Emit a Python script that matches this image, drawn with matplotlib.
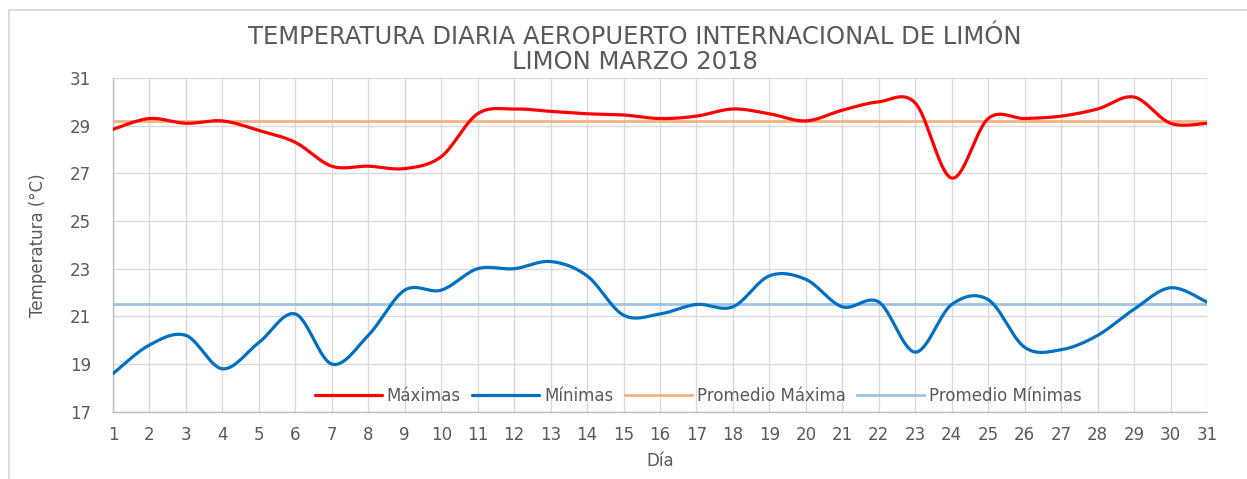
import numpy as np
import matplotlib
matplotlib.use("Agg")
import matplotlib.pyplot as plt
from matplotlib.patches import Rectangle

# ---- data ----
days = list(range(1, 32))
maximas = [28.85, 29.3, 29.1, 29.2, 28.8, 28.3, 27.3, 27.3, 27.2, 27.7,
           29.5, 29.7, 29.6, 29.5, 29.45, 29.3, 29.4, 29.7, 29.5, 29.2,
           29.65, 30.0, 29.95, 26.8, 29.3, 29.3, 29.4, 29.7, 30.2, 29.1, 29.1]
minimas = [18.6, 19.8, 20.2, 18.8, 19.9, 21.1, 19.0, 20.2, 22.1, 22.1,
           23.0, 23.0, 23.3, 22.7, 21.05, 21.1, 21.5, 21.4, 22.7, 22.55,
           21.4, 21.6, 19.5, 21.5, 21.7, 19.7, 19.6, 20.2, 21.3, 22.2, 21.6]
promedio_max = 29.2
promedio_min = 21.5
y_ticks = [17, 19, 21, 23, 25, 27, 29, 31]

title_l1 = "TEMPERATURA DIARIA AEROPUERTO INTERNACIONAL DE LIMÓN"
title_l2 = "LIMON MARZO 2018"


def smooth(xs, ys, n=30):
    """Excel-like smoothed line: cubic Bezier with Catmull-Rom tangents."""
    xs = np.asarray(xs, float)
    ys = np.asarray(ys, float)
    px, py = [], []
    m = len(xs)
    for i in range(m - 1):
        i0 = max(i - 1, 0)
        i3 = min(i + 2, m - 1)
        p0 = np.array([xs[i], ys[i]])
        p3 = np.array([xs[i + 1], ys[i + 1]])
        c1 = p0 + (np.array([xs[i + 1], ys[i + 1]]) - np.array([xs[i0], ys[i0]])) / 6
        c2 = p3 - (np.array([xs[i3], ys[i3]]) - np.array([xs[i], ys[i]])) / 6
        t = np.linspace(0, 1, n, endpoint=(i == m - 2))
        b = ((1 - t) ** 3)[:, None] * p0 + (3 * (1 - t) ** 2 * t)[:, None] * c1 \
            + (3 * (1 - t) * t ** 2)[:, None] * c2 + (t ** 3)[:, None] * p3
        px.extend(b[:, 0]); py.extend(b[:, 1])
    return px, py


W, H = 1247, 479
fig = plt.figure(figsize=(W / 100, H / 100), dpi=100)
fig.patch.set_facecolor("white")

# outer chart frame
fig.patches.append(Rectangle((9 / W, -0.1), 1.2, 1 - 10 / H + 0.1,
                             transform=fig.transFigure, fill=False,
                             edgecolor="#D9D9D9", linewidth=1.3))

ax = fig.add_axes([113 / W, 1 - 411.7 / H, (1207 - 113) / W, (411.7 - 78) / H])

grey = "#595959"
ax.set_xlim(1, 31)
ax.set_ylim(17, 31)
ax.set_xticks(days)
ax.set_yticks(y_ticks)
ax.grid(True, color="#D9D9D9", linewidth=1.0)
ax.set_axisbelow(True)
for s in ["top", "right"]:
    ax.spines[s].set_visible(False)
for s in ["left", "bottom"]:
    ax.spines[s].set_color("#BFBFBF")
    ax.spines[s].set_linewidth(1.0)
ax.tick_params(length=0, labelsize=12, labelcolor=grey)
ax.tick_params(axis="y", pad=16)
ax.tick_params(axis="x", pad=10)

sx, sy = smooth(days, maximas)
ax.plot(sx, sy, color="#FF0000", lw=2.3, label="Máximas", solid_capstyle="round", zorder=4)
sx, sy = smooth(days, minimas)
ax.plot(sx, sy, color="#0070C0", lw=2.3, label="Mínimas", solid_capstyle="round", zorder=4)
ax.plot([days[0], days[-1]], [promedio_max] * 2, color="#F4B183", lw=2.0,
        label="Promedio Máxima", zorder=3)
ax.plot([days[0], days[-1]], [promedio_min] * 2, color="#9DC3E6", lw=2.0,
        label="Promedio Mínimas", zorder=3)

leg = ax.legend(loc="lower center", bbox_to_anchor=(0.535, -0.01), ncol=4,
                frameon=False, fontsize=12, handlelength=4.0, handletextpad=0.3,
                columnspacing=0.7, borderaxespad=0.2)
for t in leg.get_texts():
    t.set_color(grey)

ax.set_xlabel("Día", fontsize=12, color=grey, labelpad=6)
ax.set_ylabel("Temperatura (°C)", fontsize=12, color=grey, labelpad=16)

fig.text(635 / W, 1 - 37 / H, title_l1, ha="center", va="center",
         fontsize=17.5, color=grey)
fig.text(635 / W, 1 - 62 / H, title_l2, ha="center", va="center",
         fontsize=17.5, color=grey)

fig.savefig("out.png", dpi=100, facecolor="white")
